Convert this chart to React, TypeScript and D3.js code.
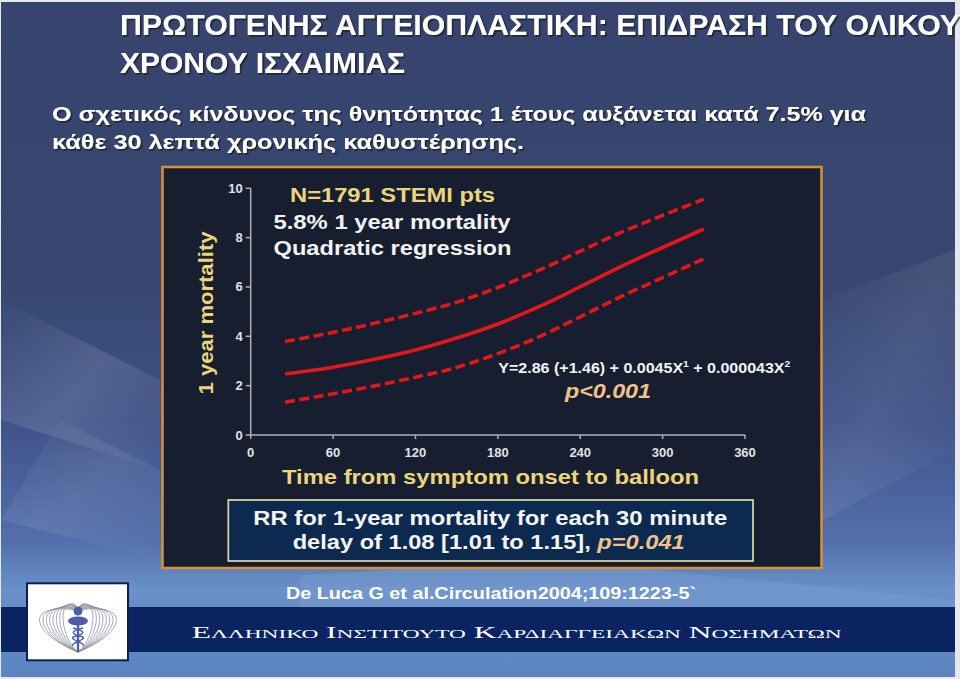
import React, { useEffect } from "react";
import * as d3 from "d3";

// ---------- data ----------
const timeMinutes = [25, 60, 90, 120, 150, 180, 210, 240, 270, 300, 330];
const mortalityFit = [2.48, 2.75, 3.07, 3.45, 3.93, 4.5, 5.2, 6.01, 6.84, 7.6, 8.35];
const mortalityUpper = [3.79, 4.16, 4.53, 4.93, 5.38, 5.98, 6.68, 7.45, 8.22, 8.9, 9.56];
const mortalityLower = [1.33, 1.67, 1.99, 2.34, 2.74, 3.3, 3.98, 4.79, 5.62, 6.38, 7.14];
const xTicks = [0, 60, 120, 180, 240, 300, 360];
const yTicks = [0, 2, 4, 6, 8, 10];

const titleLines = [
  "ΠΡΩΤΟΓΕΝΗΣ ΑΓΓΕΙΟΠΛΑΣΤΙΚΗ: ΕΠΙΔΡΑΣΗ ΤΟΥ ΟΛΙΚΟΥ",
  "ΧΡΟΝΟΥ ΙΣΧΑΙΜΙΑΣ",
];
const subtitleLines = [
  "Ο σχετικός κίνδυνος της θνητότητας 1 έτους αυξάνεται κατά 7.5% για",
  "κάθε 30 λεπτά χρονικής καθυστέρησης.",
];
const chartNotes = ["N=1791 STEMI pts", "5.8% 1 year mortality", "Quadratic regression"];
const footerWords = ["ΕΛΛΗΝΙΚΟ", "ΙΝΣΤΙΤΟΥΤΟ", "ΚΑΡΔΙΑΓΓΕΙΑΚΩΝ", "ΝΟΣΗΜΑΤΩΝ"];

const SANS = "'Liberation Sans', Arial, Helvetica, sans-serif";
const SERIF = "'Liberation Serif', 'Times New Roman', serif";

export default function App() {
  useEffect(() => {
    document.body.style.margin = "0";
  }, []);

  const x = d3.scaleLinear().domain([0, 360]).range([250.7, 745]);
  const y = d3.scaleLinear().domain([0, 10]).range([435, 188.3]);

  const line = (vals: number[]) =>
    d3
      .line<number>()
      .x((_, i) => x(timeMinutes[i]))
      .y((d) => y(d))
      .curve(d3.curveMonotoneX)(vals) as string;

  const red = "#E3161B";
  const yellow = "#EBD57A";
  const peach = "#F3C28C";

  const logoCx = 78;
  const logoArcs = d3.range(8).map((i) => 16 + i * 4.5);

  return (
    <svg
      width={960}
      height={679}
      style={{ display: "block", position: "absolute", left: 0, top: 0 }}
      fontFamily={SANS}
    >
      <defs>
        <linearGradient id="bg" x1="0" y1="0" x2="0" y2="1">
          <stop offset="0" stopColor="#36446E" />
          <stop offset="0.4" stopColor="#37476F" />
          <stop offset="0.62" stopColor="#3F5288" />
          <stop offset="0.8" stopColor="#5370AC" />
          <stop offset="0.87" stopColor="#6A90C8" />
          <stop offset="1" stopColor="#5B84C0" />
        </linearGradient>
        <linearGradient id="ray" x1="0" y1="0" x2="1" y2="1">
          <stop offset="0" stopColor="#ffffff" stopOpacity="0.0" />
          <stop offset="0.5" stopColor="#ffffff" stopOpacity="0.12" />
          <stop offset="1" stopColor="#ffffff" stopOpacity="0.0" />
        </linearGradient>
        <filter id="shadow" x="-5%" y="-20%" width="110%" height="150%">
          <feDropShadow dx="1.6" dy="1.6" stdDeviation="0.6" floodColor="#1a1a1a" floodOpacity="0.75" />
        </filter>
      </defs>

      {/* page frame */}
      <rect x={0} y={0} width={960} height={679} fill="#e8e8ec" />
      <rect x={1} y={2} width={954} height={675} fill="url(#bg)" />
      <polygon points="1,300 160,380 160,470 1,420" fill="url(#ray)" />
      <polygon points="60,420 160,470 160,560 1,520" fill="url(#ray)" opacity={0.7} />
      <polygon points="300,575 560,560 955,600 955,607 300,607" fill="#7FA3D6" opacity={0.35} />
      <polygon points="823,300 955,250 955,450 823,520" fill="url(#ray)" opacity={0.6} />

      {/* footer band */}
      <rect x={1} y={607} width={954} height={45} fill="#0A2461" />

      {/* title */}
      <g fill="#ffffff" fontWeight="bold" filter="url(#shadow)">
        <text x={120} y={35} fontSize={29} textLength={840} lengthAdjust="spacingAndGlyphs">{titleLines[0]}</text>
        <text x={120} y={72.5} fontSize={29} textLength={285} lengthAdjust="spacingAndGlyphs">{titleLines[1]}</text>
        <text x={52} y={120.5} fontSize={21} textLength={814} lengthAdjust="spacingAndGlyphs">{subtitleLines[0]}</text>
        <text x={52} y={148.5} fontSize={21} textLength={472} lengthAdjust="spacingAndGlyphs">{subtitleLines[1]}</text>
      </g>

      {/* chart panel */}
      <rect x={162.5} y={167} width={659} height={401} fill="#161E30" stroke="#D69233" strokeWidth={2.5} />

      {/* axes */}
      <g stroke="#AFAFB4" strokeWidth={1.5} fill="none">
        <line x1={x(0)} x2={x(0)} y1={y(0)} y2={y(10)} />
        <line x1={x(0)} x2={x(360)} y1={y(0)} y2={y(0)} />
        {yTicks.map((t) => (
          <line key={"yt" + t} x1={x(0) - 5} x2={x(0)} y1={y(t)} y2={y(t)} />
        ))}
        {xTicks.map((t) => (
          <line key={"xt" + t} x1={x(t)} x2={x(t)} y1={y(0)} y2={y(0) + 4} />
        ))}
      </g>
      <g fill="#E2E2E6" fontWeight="bold" fontSize={13}>
        {yTicks.map((t) => (
          <text key={"yl" + t} x={x(0) - 8} y={y(t) + 4.5} textAnchor="end">{t}</text>
        ))}
        {xTicks.map((t) => (
          <text key={"xl" + t} x={x(t)} y={457} textAnchor="middle">{t}</text>
        ))}
      </g>

      {/* axis titles */}
      <text
        transform={`translate(212.5,313) rotate(-90)`}
        textAnchor="middle"
        fontSize={20}
        fontWeight="bold"
        fill={yellow}
        textLength={163}
        lengthAdjust="spacingAndGlyphs"
      >
        1 year mortality
      </text>
      <text x={490.5} y={483.5} textAnchor="middle" fontSize={20.5} fontWeight="bold" fill={yellow} textLength={417} lengthAdjust="spacingAndGlyphs">
        Time from symptom onset to balloon
      </text>

      {/* notes */}
      <g fontWeight="bold" fontSize={19.5} textAnchor="middle">
        <text x={392.5} y={201.7} fill={yellow} textLength={205} lengthAdjust="spacingAndGlyphs">{chartNotes[0]}</text>
        <text x={392} y={228.5} fill="#F2F2F2" textLength={237} lengthAdjust="spacingAndGlyphs">{chartNotes[1]}</text>
        <text x={392.5} y={255} fill="#F2F2F2" textLength={238} lengthAdjust="spacingAndGlyphs">{chartNotes[2]}</text>
      </g>

      {/* curves */}
      <g fill="none" stroke={red} strokeWidth={3.6} strokeLinecap="butt">
        <path d={line(mortalityUpper)} strokeDasharray="10,4.5" />
        <path d={line(mortalityFit)} />
        <path d={line(mortalityLower)} strokeDasharray="10,4.5" />
      </g>

      {/* equation */}
      <text x={498.3} y={373.3} fontSize={14} fontWeight="bold" fill="#F2F2F2" textLength={292} lengthAdjust="spacingAndGlyphs">
        Y=2.86 (+1.46) + 0.0045X
        <tspan fontSize={9} dy={-6}>1</tspan>
        <tspan dy={6}> + 0.000043X</tspan>
        <tspan fontSize={9} dy={-6}>2</tspan>
      </text>
      <text x={565} y={398.3} fontSize={20} fontWeight="bold" fontStyle="italic" fill={peach} textLength={86} lengthAdjust="spacingAndGlyphs">
        p&lt;0.001
      </text>

      {/* RR box */}
      <rect x={228.3} y={500} width={524.7} height={61} fill="#0C2A50" stroke="#D3D29A" strokeWidth={1.8} />
      <g fontSize={20} fontWeight="bold" fill="#F4F4F4">
        <text x={253.3} y={525} textLength={474} lengthAdjust="spacingAndGlyphs">RR for 1-year mortality for each 30 minute</text>
        <text x={292.7} y={549.3} textLength={392} lengthAdjust="spacingAndGlyphs">
          delay of 1.08 [1.01 to 1.15],{" "}
          <tspan fill={peach} fontStyle="italic">p=0.041</tspan>
        </text>
      </g>

      {/* citation */}
      <text x={286} y={599} fontSize={16} fontWeight="bold" fill="#FFFFFF" textLength={410} lengthAdjust="spacingAndGlyphs">
        De Luca G et al.Circulation2004;109:1223-5`
      </text>

      {/* institute name in small caps */}
      <text x={191.7} y={638.3} fill="#FFFFFF" fontFamily={SERIF} textLength={650} lengthAdjust="spacingAndGlyphs">
        {footerWords.map((w, i) => (
          <tspan key={w}>
            <tspan fontSize={17.5}>{(i > 0 ? " " : "") + w[0]}</tspan>
            <tspan fontSize={13}>{w.slice(1)}</tspan>
          </tspan>
        ))}
      </text>

      {/* logo */}
      <rect x={27} y={583.3} width={101} height={77} fill="#FFFFFF" stroke="#0B1F55" strokeWidth={2} />
      <g fill="none" stroke="#8E93A0" strokeWidth={0.8}>
        {logoArcs.map((w, i) => (
          <g key={"la" + i}>
            <path d={`M${logoCx},652 C${logoCx - w},${640 - i} ${logoCx - w - 6},${600 + i * 0.5} ${logoCx - 4},${604 + i * 0.8} L${logoCx},608`} />
            <path d={`M${logoCx},652 C${logoCx + w},${640 - i} ${logoCx + w + 6},${600 + i * 0.5} ${logoCx + 4},${604 + i * 0.8} L${logoCx},608`} />
          </g>
        ))}
      </g>
      <g fill="#4C5FA8">
        <circle cx={logoCx} cy={611} r={4.5} />
        <ellipse cx={logoCx} cy={621} rx={10} ry={4.5} />
        <rect x={logoCx - 1.2} y={622} width={2.4} height={30} />
      </g>
      <g fill="none" stroke="#4C5FA8" strokeWidth={1.4}>
        <path d={`M${logoCx - 5},628 C${logoCx + 8},631 ${logoCx + 8},634 ${logoCx - 5},637 C${logoCx - 8},640 ${logoCx + 8},643 ${logoCx + 5},646`} />
        <path d={`M${logoCx + 5},628 C${logoCx - 8},631 ${logoCx - 8},634 ${logoCx + 5},637 C${logoCx + 8},640 ${logoCx - 8},643 ${logoCx - 5},646`} />
      </g>
    </svg>
  );
}
